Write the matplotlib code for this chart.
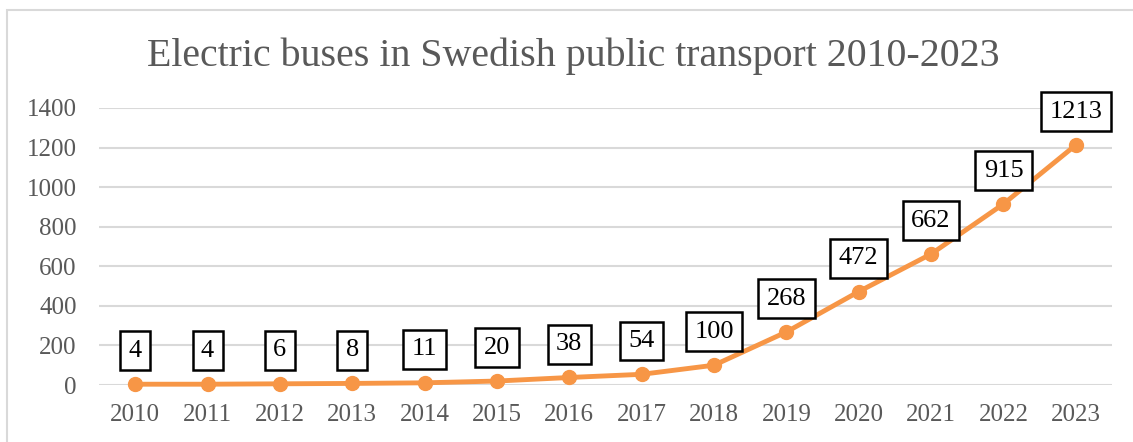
import matplotlib.pyplot as plt
from matplotlib.patches import Rectangle

years = ['2010', '2011', '2012', '2013', '2014', '2015', '2016',
         '2017', '2018', '2019', '2020', '2021', '2022', '2023']
buses = [4, 4, 6, 8, 11, 20, 38, 54, 100, 268, 472, 662, 915, 1213]
yticks = [0, 200, 400, 600, 800, 1000, 1200, 1400]

title = 'Electric buses in Swedish public transport 2010-2023'
orange = '#F79646'
grey_txt = '#595959'
grid_col = '#D9D9D9'

plt.rcParams['font.family'] = ['Liberation Serif', 'DejaVu Serif']

fig = plt.figure(figsize=(11.33, 4.42), dpi=100)
W, H = 1133, 442

# outer chart border (runs off right/bottom of image like the source)
fig.patches.append(Rectangle((7 / W, -0.1), 1.2, (H - 10) / H + 0.1,
                             transform=fig.transFigure, fill=False,
                             edgecolor=grid_col, linewidth=1.5))

ax = fig.add_axes([99 / W, 57 / H, (1112 - 99) / W, (385 - 108) / H])
x = list(range(len(years)))
ax.plot(x, buses, color=orange, linewidth=3.5, marker='o', markersize=10,
        solid_capstyle='round', zorder=3, clip_on=False)

for xi, v in zip(x, buses):
    ax.annotate(str(v), (xi, v), xytext=(0, 24), textcoords='offset points',
                ha='center', va='center', fontsize=19, color='black', zorder=4,
                bbox=dict(boxstyle='square,pad=0.32', fc='white', ec='black', lw=1.8))

ax.set_xlim(-0.5, len(years) - 0.5)
ax.set_ylim(0, 1400)
ax.set_yticks(yticks)
ax.set_xticks(x)
ax.set_xticklabels(years)
ax.tick_params(axis='both', length=0, labelsize=18, labelcolor=grey_txt)
ax.tick_params(axis='y', pad=16)
ax.tick_params(axis='x', pad=14)
ax.grid(axis='y', color=grid_col, linewidth=1.5)
ax.set_axisbelow(True)
for s in ax.spines.values():
    s.set_visible(False)

fig.text(573 / W, 1 - 56 / H, title, ha='center', va='center',
         fontsize=28.7, color=grey_txt)

fig.savefig('out.png', dpi=100)
